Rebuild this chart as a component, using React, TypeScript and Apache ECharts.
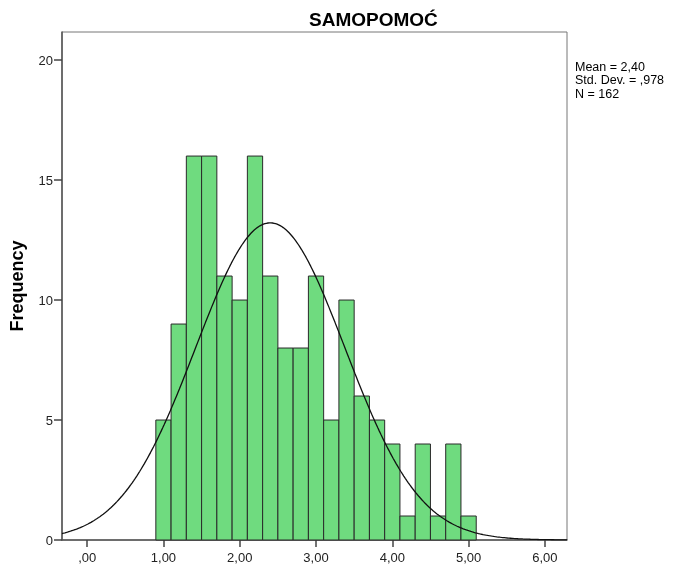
import React, { useEffect, useRef } from "react";
import * as echarts from "echarts";

const counts = [5, 9, 16, 16, 11, 10, 16, 11, 8, 8, 11, 5, 10, 6, 5, 4, 1, 4, 1, 4, 1];
const binLower = [0.9, 1.1, 1.3, 1.5, 1.7, 1.9, 2.1, 2.3, 2.5, 2.7, 2.9, 3.1, 3.3, 3.5, 3.7, 3.9, 4.1, 4.3, 4.5, 4.7, 4.9];
const binWidth = 0.2;
const meanVal = 2.4;
const sdVal = 0.978;
const nVal = 162;
const xTicks = [0, 1, 2, 3, 4, 5, 6];
const yTicks = [0, 5, 10, 15, 20];
const statLines = ["Mean = 2,40", "Std. Dev. = ,978", "N = 162"];
const titleText = "SAMOPOMOĆ";
const yName = "Frequency";

const FONT = "Liberation Sans, Arial, sans-serif";

export default function App() {
  const ref = useRef<HTMLDivElement>(null);
  useEffect(() => {
    const chart = echarts.init(ref.current!, null, { renderer: "svg" });
    const xMin = -0.33;
    const xMax = 6.29;
    const curve: number[][] = [];
    const scale = (nVal * binWidth) / (sdVal * Math.sqrt(2 * Math.PI));
    for (let i = 0; i <= 331; i++) {
      const x = xMin + i * 0.02;
      const z = (x - meanVal) / sdVal;
      curve.push([x, scale * Math.exp(-0.5 * z * z)]);
    }
    const bars = counts.map((c, i) => [binLower[i], binLower[i] + binWidth, c]);
    const fmt = (v: number) => {
      const s = v.toFixed(2).replace(".", ",");
      return s.startsWith("0") ? s.slice(1) : s;
    };
    chart.setOption({
      animation: false,
      grid: {
        left: 62,
        right: 106,
        top: 32,
        bottom: 25,
        show: true,
        borderColor: "#777",
        borderWidth: 1,
        containLabel: false,
        outerBoundsMode: "none",
      },
      xAxis: {
        type: "value",
        min: xMin,
        max: xMax,
        splitLine: { show: false },
        axisLine: { show: true, onZero: false, lineStyle: { color: "#555", width: 1.5 } },
        axisTick: { show: true, customValues: xTicks, length: 7, lineStyle: { color: "#444", width: 1.5 } },
        axisLabel: {
          customValues: xTicks,
          formatter: (v: number) => fmt(v),
          color: "#222",
          fontFamily: FONT,
          fontSize: 13,
          margin: 11,
        },
      },
      yAxis: {
        type: "value",
        min: 0,
        max: 21.17,
        splitLine: { show: false },
        axisLine: { show: true, onZero: false, lineStyle: { color: "#555", width: 1.5 } },
        axisTick: { show: true, customValues: yTicks, length: 8, lineStyle: { color: "#444", width: 1.5 } },
        axisLabel: {
          customValues: yTicks,
          color: "#222",
          fontFamily: FONT,
          fontSize: 13,
          margin: 9,
        },
        name: yName,
        nameLocation: "middle",
        nameGap: 36,
        nameRotate: 90,
        nameTextStyle: { fontFamily: FONT, fontSize: 18, fontWeight: "bold", color: "#000" },
      },
      graphic: [
        {
          type: "text",
          left: 309,
          top: 10,
          style: { text: titleText, fontFamily: FONT, fontSize: 19, fontWeight: "bold", fill: "#000" },
        },
        {
          type: "text",
          left: 575,
          top: 60,
          style: { text: statLines.join("\n"), fontFamily: FONT, fontSize: 12.5, lineHeight: 13.5, fill: "#000" },
        },
      ],
      series: [
        {
          type: "custom",
          data: bars,
          encode: { x: [0, 1], y: 2 },
          renderItem: (params: any, api: any) => {
            const p0 = api.coord([api.value(0), api.value(2)]);
            const p1 = api.coord([api.value(1), 0]);
            return {
              type: "rect",
              shape: { x: p0[0], y: p0[1], width: p1[0] - p0[0], height: p1[1] - p0[1] },
              style: { fill: "#6FDB7F", stroke: "#2a2a2a", lineWidth: 1 },
            };
          },
          z: 2,
        },
        {
          type: "line",
          data: curve,
          showSymbol: false,
          smooth: false,
          lineStyle: { color: "#111", width: 1.3 },
          z: 3,
        },
      ],
    });
    return () => chart.dispose();
  }, []);
  return <div ref={ref} style={{ position: "fixed", left: 0, top: 0, width: 673, height: 565 }} />;
}
